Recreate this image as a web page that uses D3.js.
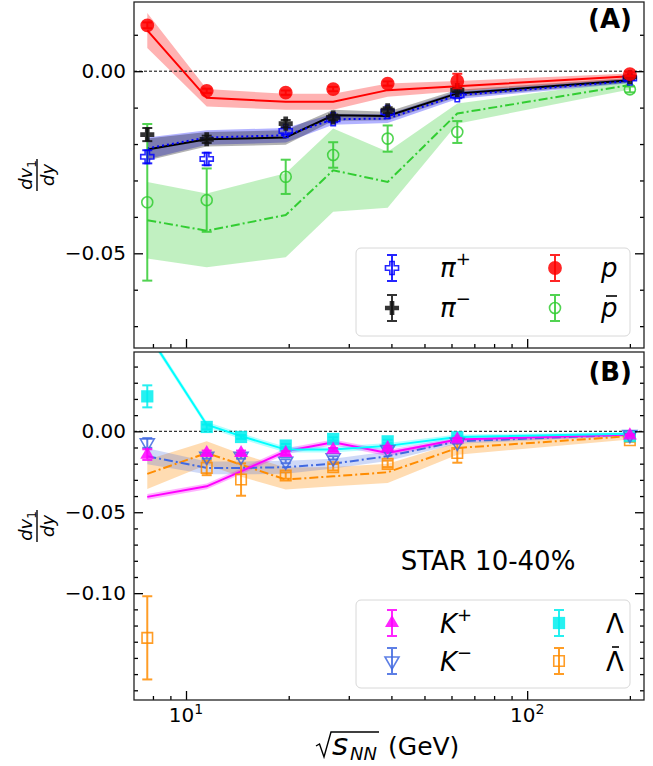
<!DOCTYPE html>
<html><head><meta charset="utf-8">
<script src="https://cdn.jsdelivr.net/npm/d3@7"></script>
<style>body{margin:0;background:#fff}svg{font-family:"DejaVu Sans",sans-serif}</style>
</head><body><svg id="c" width="653" height="766"></svg>
<script>
// ---------------- data ----------------
const energiesA = [7.7, 11.5, 19.6, 27, 39, 62.4, 200];
const energiesB = [7.7, 11.5, 14.5, 19.6, 27, 39, 62.4, 200];

// panel A: STAR data
const pData    = [0.0126, -0.0054, -0.0059, -0.0049, -0.0034, -0.0027, -0.0008];
const pErr     = [0.0008, 0.0006, 0.0006, 0.0006, 0.0006, 0.0020, 0.0005];
const piMData  = [-0.0174, -0.0187, -0.0144, -0.0127, -0.0107, -0.0052, -0.0016];
const piMErr   = [0.0018, 0.0010, 0.0010, 0.0008, 0.0008, 0.0006, 0.0004];
const piPData  = [-0.0235, -0.0241, -0.0164, -0.0132, -0.0112, -0.0066, -0.0020];
const piPErr   = [0.0018, 0.0017, 0.0010, 0.0008, 0.0008, 0.0008, 0.0004];
const pbarData = [-0.0360, -0.0354, -0.0290, -0.0230, -0.0185, -0.0167, -0.0050];
const pbarErr  = [0.0215, 0.0087, 0.0047, 0.0035, 0.0036, 0.0030, 0.0008];

// panel A: model curves
const pModel     = [0.0112, -0.0073, -0.0084, -0.0084, -0.0052, -0.0041, -0.0014];
const pModelErr  = [0.0048, 0.0024, 0.0022, 0.0022, 0.0018, 0.0014, 0.0008];
const piMModel    = [-0.0215, -0.0187, -0.0182, -0.0121, -0.0123, -0.0061, -0.0025];
const piMModelErr = [0.0030, 0.0020, 0.0020, 0.0015, 0.0012, 0.0010, 0.0006];
const piPModel    = [-0.0212, -0.0182, -0.0176, -0.0132, -0.0130, -0.0066, -0.0027];
const piPModelErr = [0.0030, 0.0020, 0.0020, 0.0015, 0.0012, 0.0010, 0.0006];
const pbarModel   = [-0.0409, -0.0438, -0.0395, -0.0272, -0.0304, -0.0116, -0.0038];
const pbarModelLo = [-0.0514, -0.0538, -0.0511, -0.0386, -0.0375, -0.0144, -0.0050];
const pbarModelHi = [-0.0304, -0.0336, -0.0280, -0.0157, -0.0221, -0.0089, -0.0025];

// panel B: STAR data
const kpData   = [-0.0144, -0.0134, -0.0134, -0.0134, -0.0113, -0.0103, -0.0050, -0.0025];
const kpErr    = [0.0033, 0.0015, 0.0015, 0.0012, 0.0010, 0.0010, 0.0008, 0.0005];
const kmData   = [-0.0072, -0.0154, -0.0154, -0.0185, -0.0164, -0.0113, -0.0068, -0.0020];
const kmErr    = [0.0030, 0.0015, 0.0015, 0.0012, 0.0010, 0.0010, 0.0008, 0.0005];
const lamData  = [0.0216, 0.0027, -0.0035, -0.0088, -0.0047, -0.0062, -0.0037, -0.0030];
const lamErr   = [0.0068, 0.0015, 0.0012, 0.0010, 0.0010, 0.0010, 0.0008, 0.0005];
const lbarData = [-0.1276, -0.0226, -0.0298, -0.0273, -0.0222, -0.0201, -0.0134, -0.0055];
const lbarErr  = [0.0257, 0.0045, 0.0100, 0.0020, 0.0020, 0.0020, 0.0060, 0.0010];

// panel B: model curves
const kpModel    = [-0.0405, -0.0340, -0.0247, -0.0123, -0.0068, -0.0134, -0.0051, -0.0020];
const kpModelErr = [0.0018, 0.0018, 0.0018, 0.0018, 0.0018, 0.0018, 0.0015, 0.0010];
const kmModel    = [-0.0154, -0.0226, -0.0226, -0.0222, -0.0200, -0.0154, -0.0062, -0.0020];
const kmModelErr = [0.0050, 0.0040, 0.0040, 0.0040, 0.0030, 0.0030, 0.0015, 0.0010];
const lamModel    = [0.0610, 0.0041, -0.0030, -0.0113, -0.0113, -0.0090, -0.0035, -0.0015];
const lamModelErr = [0.0020, 0.0018, 0.0018, 0.0018, 0.0018, 0.0018, 0.0015, 0.0010];
const lbarModel   = [-0.0263, -0.0134, -0.0206, -0.0298, -0.0278, -0.0253, -0.0103, -0.0030];
const lbarModelLo = [-0.0356, -0.0206, -0.0280, -0.0360, -0.0340, -0.0320, -0.0145, -0.0050];
const lbarModelHi = [-0.0175, -0.0062, -0.0140, -0.0224, -0.0220, -0.0200, -0.0070, -0.0010];

// axis ticks
const xMajor = [10, 100];
const xMinor = [8, 9, 20, 30, 40, 50, 60, 70, 80, 90, 200];
const yMajorA = [-0.05, 0.0];
const yMinorA = [-0.07, -0.06, -0.04, -0.03, -0.02, -0.01, 0.01];
const yMajorB = [-0.10, -0.05, 0.0];
const yMinorB = [-0.16, -0.15, -0.14, -0.13, -0.12, -0.11, -0.09, -0.08, -0.07, -0.06, -0.04, -0.03, -0.02, -0.01, 0.01, 0.02, 0.03, 0.04];

// ---------------- drawing ----------------
const svg = d3.select("#c");
const L = 134, R = 644;
const x = d3.scaleLog().domain([7.04, 220]).range([L, R]);
const yA = d3.scaleLinear().domain([-0.076, 0.019]).range([348, 2]);
const yB = d3.scaleLinear().domain([-0.166, 0.049]).range([700, 352]);

const defs = svg.append("defs");
function makePanel(id, y) {
  const [b, t] = y.range();
  defs.append("clipPath").attr("id", id).append("rect")
    .attr("x", L).attr("y", t).attr("width", R - L).attr("height", b - t);
  return svg.append("g").attr("clip-path", `url(#${id})`);
}
const gA = makePanel("clipA", yA);
const gB = makePanel("clipB", yB);

function band(g, xs, lo, hi, y, color, op) {
  const area = d3.area().x((d, i) => x(xs[i])).y0((d, i) => y(lo[i])).y1((d, i) => y(hi[i]));
  g.append("path").attr("d", area(xs)).attr("fill", color).attr("fill-opacity", op).attr("stroke", "none");
}
function line(g, xs, ys, y, color, dash, w = 2) {
  const ln = d3.line().x((d, i) => x(xs[i])).y((d, i) => y(ys[i]));
  g.append("path").attr("d", ln(xs)).attr("fill", "none").attr("stroke", color)
    .attr("stroke-width", w).attr("stroke-dasharray", dash || null);
}
function zeroLine(g, y) {
  g.append("line").attr("x1", L).attr("x2", R).attr("y1", y(0)).attr("y2", y(0))
    .attr("stroke", "#000").attr("stroke-width", 1).attr("stroke-dasharray", "3,2");
}
function errbars(g, xs, ys, es, y, color, op = 0.85) {
  xs.forEach((e, i) => {
    const cx = x(e), y1 = y(ys[i] - es[i]), y2 = y(ys[i] + es[i]);
    const gg = g.append("g").attr("stroke", color).attr("stroke-width", 2).attr("opacity", op);
    gg.append("line").attr("x1", cx).attr("x2", cx).attr("y1", y1).attr("y2", y2);
    gg.append("line").attr("x1", cx - 5).attr("x2", cx + 5).attr("y1", y1).attr("y2", y1);
    gg.append("line").attr("x1", cx - 5).attr("x2", cx + 5).attr("y1", y2).attr("y2", y2);
  });
}
function symPath(type, size) { return d3.symbol().type(type).size(size)(); }
function markers(g, xs, ys, y, spec) {
  xs.forEach((e, i) => drawMarker(g, x(e), y(ys[i]), spec));
}
function drawMarker(g, cx, cy, s) {
  const p = g.append("path").attr("d", symPath(s.type, s.size))
    .attr("transform", `translate(${cx},${cy})` + (s.rot ? ` rotate(${s.rot})` : ""))
    .attr("opacity", s.op || 0.85);
  if (s.open) p.attr("fill", "none").attr("stroke", s.color).attr("stroke-width", 1.6);
  else p.attr("fill", s.color).attr("stroke", "none");
}

const specP    = {type: d3.symbolCircle, size: 150, color: "#ff0000"};
const specPbar = {type: d3.symbolCircle, size: 95, color: "#33cc33", open: true};
const specPiP  = {type: d3.symbolCross, size: 95, color: "#0000ff", open: true};
const specPiM  = {type: d3.symbolCross, size: 110, color: "#111111"};
const specKp   = {type: d3.symbolTriangle, size: 85, color: "#ff00ff"};
const specKm   = {type: d3.symbolTriangle, size: 85, color: "#4169e1", open: true, rot: 180};
const specLam  = {type: d3.symbolSquare, size: 150, color: "#00eeee"};
const specLbar = {type: d3.symbolSquare, size: 110, color: "#ff8c00", open: true};

// ---- Panel A ----
band(gA, energiesA, pbarModelLo, pbarModelHi, yA, "#32cd32", 0.3);
band(gA, energiesA, piPModel.map((v, i) => v - piPModelErr[i]), piPModel.map((v, i) => v + piPModelErr[i]), yA, "#0000ff", 0.3);
band(gA, energiesA, piMModel.map((v, i) => v - piMModelErr[i]), piMModel.map((v, i) => v + piMModelErr[i]), yA, "#000000", 0.3);
band(gA, energiesA, pModel.map((v, i) => v - pModelErr[i]), pModel.map((v, i) => v + pModelErr[i]), yA, "#ff0000", 0.3);
zeroLine(gA, yA);
line(gA, energiesA, pbarModel, yA, "#32cd32", "9,3,2,3");
line(gA, energiesA, piMModel, yA, "#000", null);
line(gA, energiesA, piPModel, yA, "#0000ff", "2,3");
line(gA, energiesA, pModel, yA, "#ff0000", null);

errbars(gA, energiesA, pbarData, pbarErr, yA, "#33cc33");
markers(gA, energiesA, pbarData, yA, specPbar);
errbars(gA, energiesA, piPData, piPErr, yA, "#0000ff");
markers(gA, energiesA, piPData, yA, specPiP);
errbars(gA, energiesA, piMData, piMErr, yA, "#111");
markers(gA, energiesA, piMData, yA, specPiM);
errbars(gA, energiesA, pData, pErr, yA, "#ff0000");
markers(gA, energiesA, pData, yA, specP);

// ---- Panel B ----
band(gB, energiesB, lbarModelLo, lbarModelHi, yB, "#ff8c00", 0.3);
band(gB, energiesB, kmModel.map((v, i) => v - kmModelErr[i]), kmModel.map((v, i) => v + kmModelErr[i]), yB, "#4169e1", 0.25);
band(gB, energiesB, kpModel.map((v, i) => v - kpModelErr[i]), kpModel.map((v, i) => v + kpModelErr[i]), yB, "#ff00ff", 0.3);
band(gB, energiesB, lamModel.map((v, i) => v - lamModelErr[i]), lamModel.map((v, i) => v + lamModelErr[i]), yB, "#00ffff", 0.3);
zeroLine(gB, yB);
line(gB, energiesB, lbarModel, yB, "#ff8c00", "9,3,2,3");
line(gB, energiesB, kmModel, yB, "#4169e1", "9,3,2,3");
line(gB, energiesB, kpModel, yB, "#ff00ff", null);
line(gB, energiesB, lamModel, yB, "#00ffff", null);

errbars(gB, energiesB, lbarData, lbarErr, yB, "#ff8c00");
markers(gB, energiesB, lbarData, yB, specLbar);
errbars(gB, energiesB, lamData, lamErr, yB, "#00eeee");
markers(gB, energiesB, lamData, yB, specLam);
errbars(gB, energiesB, kmData, kmErr, yB, "#4169e1");
markers(gB, energiesB, kmData, yB, specKm);
errbars(gB, energiesB, kpData, kpErr, yB, "#ff00ff");
markers(gB, energiesB, kpData, yB, specKp);

// ---- axes ----
function axes(y, showX) {
  const [b, t] = y.range();
  const fmt = d3.format(".2f");
  const style = g => { g.select(".domain").remove(); g.selectAll("line").attr("stroke-width", 1.3); };
  svg.append("g").attr("transform", `translate(${L},0)`)
    .call(d3.axisLeft(y).tickValues(y === yA ? yMajorA : yMajorB).tickSize(-9).tickPadding(8).tickFormat(fmt))
    .call(g => { style(g); g.selectAll("text").attr("font-size", 20).attr("font-family", "DejaVu Sans"); });
  svg.append("g").attr("transform", `translate(${L},0)`)
    .call(d3.axisLeft(y).tickValues(y === yA ? yMinorA : yMinorB).tickSize(-4).tickFormat("")).call(style);
  svg.append("g").attr("transform", `translate(${R},0)`)
    .call(d3.axisRight(y).tickValues(y === yA ? yMajorA : yMajorB).tickSize(-9).tickFormat("")).call(style);
  svg.append("g").attr("transform", `translate(${R},0)`)
    .call(d3.axisRight(y).tickValues(y === yA ? yMinorA : yMinorB).tickSize(-4).tickFormat("")).call(style);
  svg.append("g").attr("transform", `translate(0,${b})`)
    .call(d3.axisBottom(x).tickValues(xMajor).tickSize(-9).tickFormat("")).call(style);
  svg.append("g").attr("transform", `translate(0,${b})`)
    .call(d3.axisBottom(x).tickValues(xMinor).tickSize(-4).tickFormat("")).call(style);
  svg.append("rect").attr("x", L).attr("y", t).attr("width", R - L).attr("height", b - t)
    .attr("fill", "none").attr("stroke", "#222").attr("stroke-width", 1.3);
  if (showX) {
    xMajor.forEach(v => {
      const tx = svg.append("text").attr("x", x(v)).attr("y", b + 22).attr("text-anchor", "middle")
        .attr("font-size", 20).attr("fill", "#000");
      tx.append("tspan").text("10");
      tx.append("tspan").attr("font-size", 14).attr("dy", -8).text(String(Math.round(Math.log10(v))));
    });
  }
}
axes(yA, false);
axes(yB, true);

// y labels (fraction)
function ylab(cy) {
  const g = svg.append("g").attr("transform", `translate(37,${cy}) rotate(-90)`);
  const n = g.append("text").attr("x", 0).attr("y", -5).attr("text-anchor", "middle").attr("font-size", 18).attr("font-style", "italic");
  n.append("tspan").text("dv");
  n.append("tspan").attr("font-size", 12).attr("font-style", "normal").attr("dy", 4).text("1");
  g.append("line").attr("x1", -16).attr("x2", 16).attr("y1", 0).attr("y2", 0).attr("stroke", "#000").attr("stroke-width", 1.4);
  g.append("text").attr("x", 0).attr("y", 17).attr("text-anchor", "middle").attr("font-size", 18).attr("font-style", "italic").text("dy");
}
ylab(175);
ylab(526);

// x label: sqrt(s_NN) (GeV)
{
  svg.append("path").attr("d", "M316,746 L319.5,744 L324,757 L331,732 L379,732")
    .attr("fill", "none").attr("stroke", "#000").attr("stroke-width", 1.4);
  svg.append("text").attr("x", 332).attr("y", 755).attr("font-size", 31).attr("font-style", "italic").text("s");
  svg.append("text").attr("x", 350).attr("y", 760).attr("font-size", 18).attr("font-style", "italic").text("NN");
  svg.append("text").attr("x", 388).attr("y", 755).attr("font-size", 25).text("(GeV)");
}

// panel tags
svg.append("text").attr("x", 632).attr("y", 28).attr("text-anchor", "end").attr("font-size", 26).attr("font-weight", "bold").text("(A)");
svg.append("text").attr("x", 632).attr("y", 381).attr("text-anchor", "end").attr("font-size", 26).attr("font-weight", "bold").text("(B)");
svg.append("text").attr("x", 488).attr("y", 570).attr("text-anchor", "middle").attr("font-size", 26).text("STAR 10-40%");

// legends
function legendBox(y0) {
  svg.append("rect").attr("x", 356).attr("y", y0).attr("width", 274).attr("height", 88).attr("rx", 5)
    .attr("fill", "#fff").attr("fill-opacity", 0.8).attr("stroke", "#d8d8d8").attr("stroke-width", 1);
}
function legendEntry(cx, cy, spec, color) {
  const g = svg.append("g").attr("stroke", color).attr("stroke-width", 2).attr("opacity", 0.85);
  g.append("line").attr("x1", cx).attr("x2", cx).attr("y1", cy - 13).attr("y2", cy + 13);
  g.append("line").attr("x1", cx - 5).attr("x2", cx + 5).attr("y1", cy - 13).attr("y2", cy - 13);
  g.append("line").attr("x1", cx - 5).attr("x2", cx + 5).attr("y1", cy + 13).attr("y2", cy + 13);
  drawMarker(svg, cx, cy, spec);
}
function legendLabel(lx, ly, main, sup, italic, bar) {
  const t = svg.append("text").attr("x", lx).attr("y", ly).attr("font-size", 26);
  t.append("tspan").attr("font-style", italic ? "italic" : "normal").text(main);
  if (sup) t.append("tspan").attr("font-size", 18).attr("dy", -12).text(sup);
  if (bar) {
    const bb = t.node().getBBox();
    svg.append("line").attr("x1", bb.x + bar[0]).attr("x2", bb.x + bar[1]).attr("y1", ly - bar[2]).attr("y2", ly - bar[2])
      .attr("stroke", "#000").attr("stroke-width", 1.6);
  }
}
legendBox(248);
legendEntry(392, 268, specPiP, "#0000ff");
legendEntry(392, 308, specPiM, "#111");
legendEntry(555, 268, specP, "#ff0000");
legendEntry(555, 308, specPbar, "#33cc33");
legendLabel(440, 277, "\u03C0", "+", true);
legendLabel(440, 317, "\u03C0", "\u2212", true);
legendLabel(601, 277, "p", null, true);
legendLabel(601, 317, "p", null, true, [6, 17, 21]);

legendBox(600);
legendEntry(392, 623, specKp, "#ff00ff");
legendEntry(392, 661, specKm, "#4169e1");
legendEntry(559, 623, specLam, "#00eeee");
legendEntry(559, 661, specLbar, "#ff8c00");
legendLabel(440, 633, "K", "+", true);
legendLabel(440, 671, "K", "\u2212", true);
legendLabel(606, 633, "\u039B", null, false);
legendLabel(606, 671, "\u039B", null, false, [6, 13, 24]);
</script></body></html>
